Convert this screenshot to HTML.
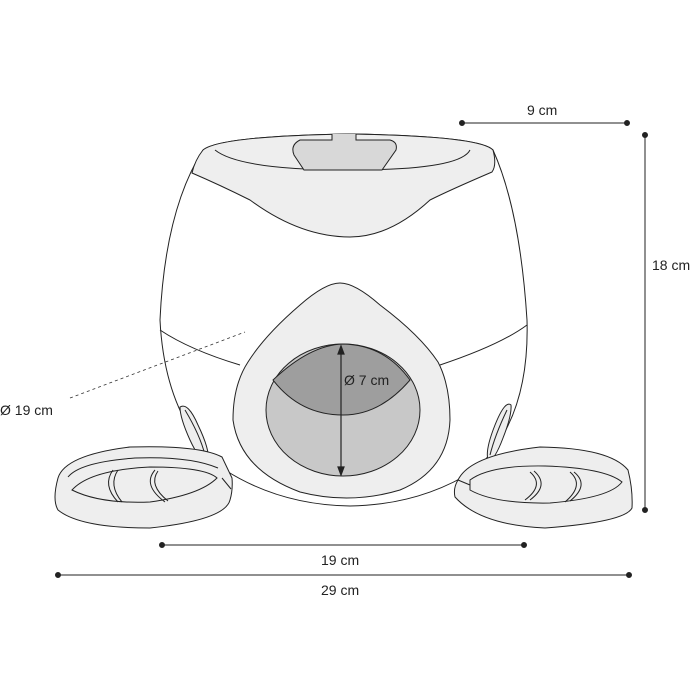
<!DOCTYPE html>
<html><head><style>
html,body{margin:0;padding:0;background:#fff;}
svg{display:block;}
text{font-family:"Liberation Sans",sans-serif;font-size:14px;fill:#222;}
</style></head><body>
<svg width="700" height="700" viewBox="0 0 700 700" xmlns="http://www.w3.org/2000/svg">
<g stroke="#222" stroke-width="1" fill="#fff">
<!-- body -->
<path d="M203,150 Q220,136 350,134 Q480,136 493,150 Q520,210 527,320 Q530,420 475,470 Q420,505 350,506 Q280,505 225,470 Q165,420 160,320 Q165,210 203,150 Z" fill="#fff"/>
<!-- top rim light band -->
<path d="M203,150 Q220,136 350,134 Q480,136 493,150 Q497,165 492,172 Q450,190 430,200 Q390,237 350,237 Q300,237 250,200 Q220,185 192,173 Q195,160 203,150 Z" fill="#eee"/>
<path d="M215,150 Q240,170 350,170 Q460,170 470,150" fill="none"/>
<path d="M215,150 Q220,140 350,138 Q460,140 470,150" fill="none" stroke="none"/>
<!-- tab -->
<path d="M332,134 L332,140 L300,140 Q290,145 294,155 L304,170 L382,170 L396,150 Q398,142 390,140 L356,140 L356,134" fill="#d8d8d8"/>
<!-- lower band -->
<path d="M160,330 Q190,350 240,365" fill="none"/>
<path d="M527,325 Q500,345 440,365" fill="none"/>
<!-- side slots -->
<path d="M180,407 Q188,402 198,425 Q210,450 208,460 Q200,462 190,440 Q180,418 180,407 Z" fill="#eee"/>
<path d="M185,410 Q200,435 205,455" fill="none"/>
<path d="M511,405 Q505,400 495,425 Q485,450 488,460 Q494,462 503,438 Q512,415 511,405 Z" fill="#eee"/>
<path d="M507,410 Q495,435 490,455" fill="none"/>
<!-- hole outer teardrop -->
<path d="M340,283 Q355,283 380,305 Q420,335 438,362 Q450,385 450,420 Q448,470 400,490 Q350,505 300,492 Q240,470 233,420 Q233,385 248,362 Q265,335 300,305 Q325,283 340,283 Z" fill="#eee"/>
<!-- inner circle -->
<ellipse cx="343" cy="410" rx="77" ry="66" fill="#c8c8c8"/>
<path d="M273,380 Q310,345 343,344 Q385,345 410,380 Q380,415 343,415 Q300,415 273,380 Z" fill="#9e9e9e"/>
<!-- left bowl -->
<path d="M58,478 Q65,455 130,447 Q200,445 222,457 L232,478 Q233,490 230,500 Q225,520 150,528 Q80,528 58,510 Q52,500 58,478 Z" fill="#eee"/>
<path d="M68,477 Q80,462 135,458 Q190,456 218,468" fill="none"/>
<path d="M72,490 Q90,470 150,467 Q205,467 217,478 Q200,495 150,502 Q100,504 72,490 Z" fill="#eee"/>
<path d="M222,478 L231,489" fill="none"/>
<path d="M113,470 Q102,485 118,502 M118,470 Q108,485 122,502" fill="none"/>
<path d="M155,470 Q142,485 165,502 M158,471 Q148,485 168,501" fill="none"/>
<!-- right bowl -->
<path d="M458,480 Q470,455 540,447 Q610,448 628,470 Q633,490 632,508 Q625,522 545,528 Q480,525 455,497 Q453,488 458,480 Z" fill="#eee"/>
<path d="M470,480 Q490,465 545,466 Q605,468 622,482 Q610,498 550,503 Q495,504 470,490 Z" fill="#eee"/>
<path d="M458,480 L470,485" fill="none"/>
<path d="M530,472 Q545,485 525,500 M534,471 Q550,485 530,500" fill="none"/>
<path d="M570,472 Q585,485 565,502 M574,472 Q590,485 570,501" fill="none"/>
</g>
<!-- diameter arrow -->
<g stroke="#222" stroke-width="1.2" fill="#222">
<line x1="341" y1="350" x2="341" y2="470"/>
<path d="M341,346 L338,354 L344,354 Z"/>
<path d="M341,475 L338,467 L344,467 Z"/>
</g>
<text x="344" y="385">Ø 7 cm</text>
<!-- dashed -->
<line x1="70" y1="398" x2="245" y2="332" stroke="#333" stroke-width="0.8" stroke-dasharray="3,3"/>
<text x="0" y="415">Ø 19 cm</text>
<!-- dimension lines -->
<g stroke="#222" stroke-width="1" fill="#222">
<line x1="462" y1="123" x2="627" y2="123"/><circle cx="462" cy="123" r="2.5"/><circle cx="627" cy="123" r="2.5"/>
<line x1="645" y1="135" x2="645" y2="510"/><circle cx="645" cy="135" r="2.5"/><circle cx="645" cy="510" r="2.5"/>
<line x1="162" y1="545" x2="524" y2="545"/><circle cx="162" cy="545" r="2.5"/><circle cx="524" cy="545" r="2.5"/>
<line x1="58" y1="575" x2="629" y2="575"/><circle cx="58" cy="575" r="2.5"/><circle cx="629" cy="575" r="2.5"/>
</g>
<text x="527" y="115">9 cm</text>
<text x="652" y="270">18 cm</text>
<text x="321" y="565">19 cm</text>
<text x="321" y="595">29 cm</text>
</svg>
</body></html>
